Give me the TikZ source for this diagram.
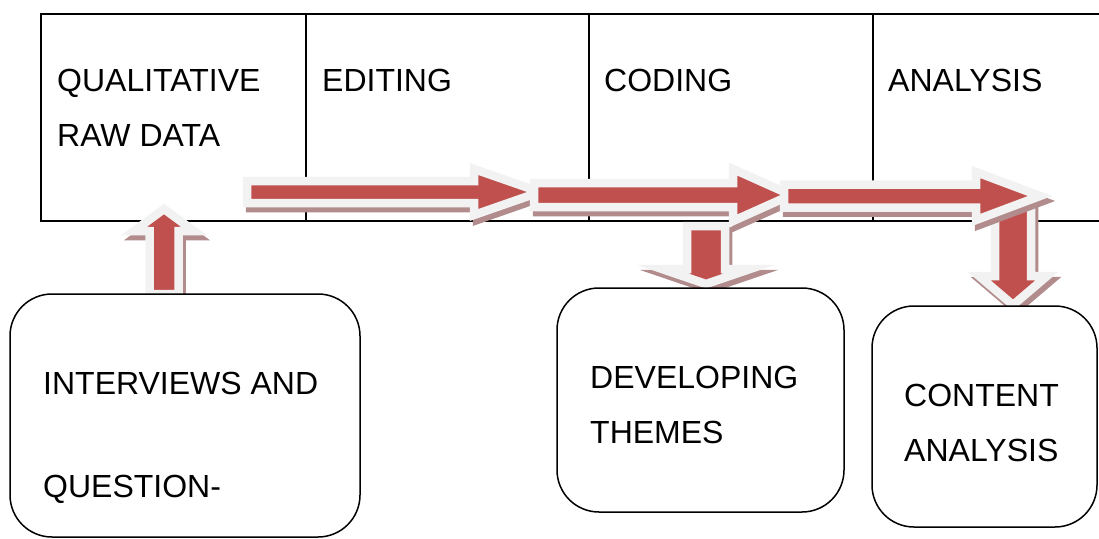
\documentclass[tikz,border=0pt]{standalone}
\usepackage{fontspec}
\setmainfont{Liberation Sans}
\usetikzlibrary{calc,positioning}

\definecolor{arrowred}{RGB}{192,80,77}
\definecolor{arrowrim}{RGB}{242,242,242}
\definecolor{arrowshade}{RGB}{178,140,140}

\tikzset{
  cell/.style={draw, line width=1.5pt, minimum height=207pt, anchor=north west, inner sep=0pt, outer sep=0pt},
  roundbox/.style={draw, line width=1.5pt, rounded corners=42pt, fill=white, anchor=north west, inner sep=0pt, outer sep=0pt},
  txt/.style={anchor=north west, inner sep=0pt, align=left, font=\fontsize{32}{55}\selectfont},
  arrowbody/.style={fill=arrowred, draw=arrowrim, line width=8.5pt},
  arrowshadow/.style={fill=arrowshade, draw=arrowshade, line width=8.5pt, transform canvas={shift={(3pt,-5pt)}}}
}

% block arrow: start, tip, shaft half width, head half width, head length
\newcommand{\flowarrow}[5]{%
  \coordinate (fa-h) at ($(#2)!#5!(#1)$);
  \def\fapath{($(#1)!#3!90:(#2)$) -- ($(fa-h)!#3!-90:(#1)$) -- ($(fa-h)!#4!-90:(#1)$) -- (#2) -- ($(fa-h)!#4!90:(#1)$) -- ($(fa-h)!#3!90:(#1)$) -- ($(#1)!#3!-90:(#2)$) -- cycle}%
  \filldraw[arrowshadow] \fapath;
  \filldraw[arrowbody] \fapath;
}

\begin{document}
\begin{tikzpicture}[x=1pt,y=-1pt]
\useasboundingbox (0,0) rectangle (1099,538);

% the table
\node[cell, minimum width=265pt] (raw) at (41,14) {};
\node[cell, minimum width=283pt] (edit) at (raw.north east) {};
\node[cell, minimum width=284pt] (code) at (edit.north east) {};
\node[cell, minimum width=250pt] (anal) at (code.north east) {};

% arrows
\coordinate (up-s) at (164,294);
\coordinate (up-e) at (164,209);
\coordinate (a1-s) at (247,192);
\coordinate (a1-e) at (540,192);
\coordinate (dd-s) at (706,226);
\coordinate (dd-e) at (706,284);
\coordinate (a2-s) at (534,195);
\coordinate (a2-e) at (791,195);
\coordinate (dc-s) at (1013,200);
\coordinate (dc-e) at (1013,305);
\coordinate (a3-s) at (784,196);
\coordinate (a3-e) at (1040,196);

\flowarrow{up-s}{up-e}{14.5pt}{30pt}{22pt}
\flowarrow{a1-s}{a1-e}{11pt}{23pt}{66pt}
\flowarrow{dd-s}{dd-e}{19pt}{44pt}{15pt}
\flowarrow{a2-s}{a2-e}{12pt}{26pt}{58pt}
\flowarrow{dc-s}{dc-e}{18pt}{34pt}{29pt}
\flowarrow{a3-s}{a3-e}{11.5pt}{24pt}{64pt}

% boxes
\node[roundbox, minimum width=350pt, minimum height=243pt] (iv) at (10,294) {};
\node[roundbox, minimum width=287pt, minimum height=224pt] (dev) at (557,288) {};
\node[roundbox, minimum width=225pt, minimum height=221pt] (con) at (872,306) {};

% texts
\node[txt] (raw-t) at ($(raw.north west)+(16,55)$) {QUALITATIVE\\RAW DATA};
\node[txt] (edit-t) at ($(edit.north west)+(16,55)$) {EDITING};
\node[txt] (code-t) at ($(code.north west)+(15,55)$) {CODING};
\node[txt] (anal-t) at ($(anal.north west)+(15,55)$) {ANALYSIS};
\node[txt] (iv-t) at ($(iv.north west)+(33,78)$) {INTERVIEWS AND\\[48pt]QUESTION-};
\node[txt] (dev-t) at ($(dev.north west)+(33,78)$) {DEVELOPING\\THEMES};
\node[txt] (con-t) at ($(con.north west)+(32,78)$) {CONTENT\\ANALYSIS};

\end{tikzpicture}
\end{document}
